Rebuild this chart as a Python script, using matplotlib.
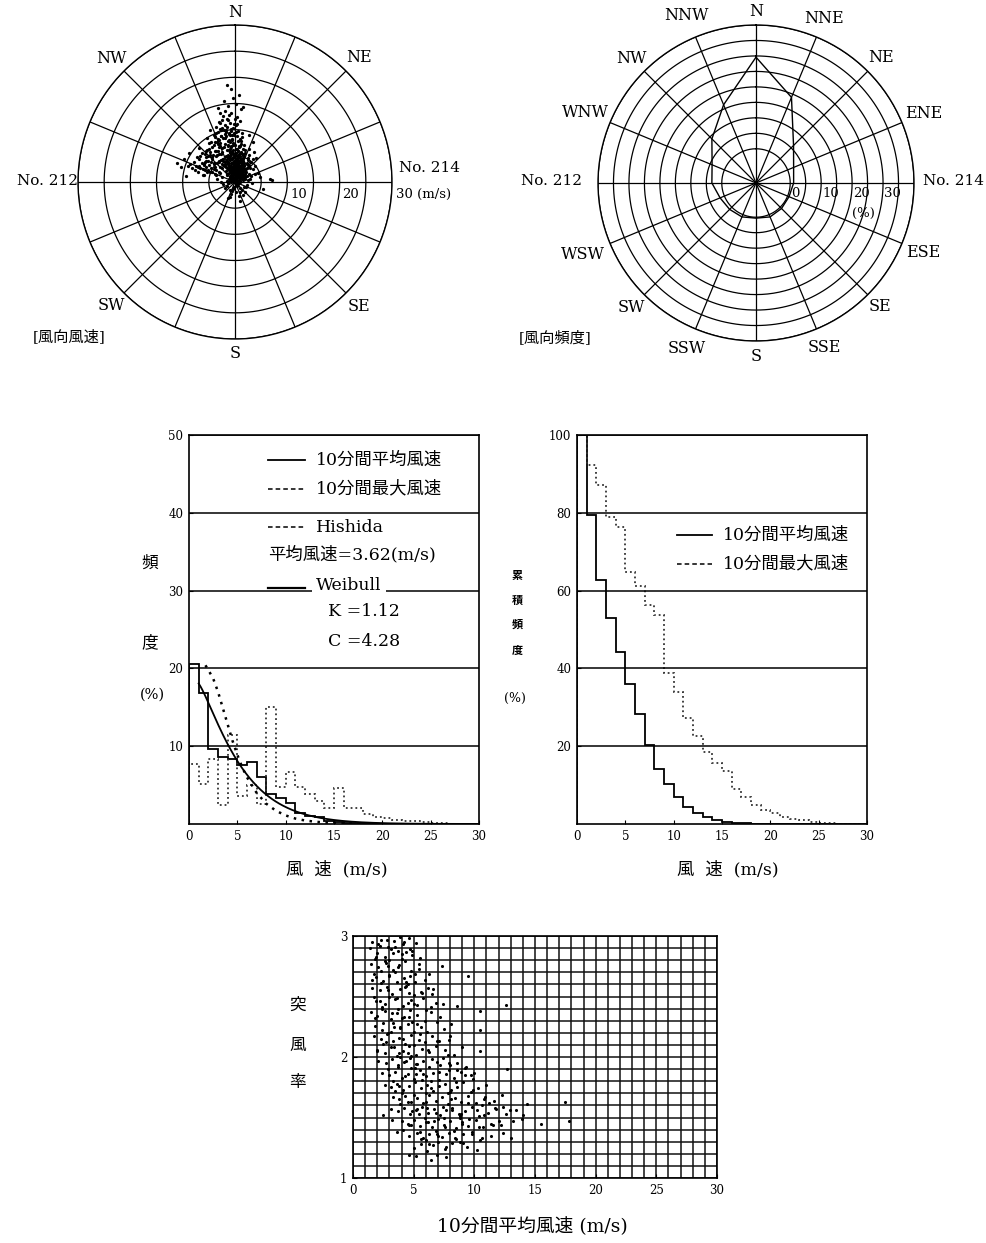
import numpy as np
import matplotlib.pyplot as plt

plt.rcParams['font.family'] = ['DejaVu Serif', 'Noto Sans CJK JP']

# --- 風向風速 scatter (east, north components, m/s) ---
east = [0.2, -0.5, 0.8, 1.3, -1.1, 0.0, 0.6, -0.3, 1.9, -0.8, 0.4, 1.1, -1.4, 0.9, -0.2, 0.3, 1.6, -0.6, 0.7, -1.0,
        0.1, -0.4, 1.5, -1.3, 0.5, 2.1, -0.7, 1.0, -0.1, 0.8, -1.6, 0.3, 1.2, -0.9, 0.6, 1.8, -0.2, 0.4, -1.2, 0.9,
        -0.5, 1.4, 0.2, -1.5, 0.7, 1.7, -0.3, -0.9, 1.1, 0.0, 2.2, -1.1, 0.5, 1.3, -0.6, 0.9, -1.8, 0.3, 1.6, -0.1,
        0.6, -0.7, 1.0, -1.3, 0.1, 1.9, -0.4, 0.8, -1.0, 1.5, 0.3, -0.2, 2.0, -1.6, 0.7, 1.2, -0.8, 0.4, -0.5, 1.1,
        0.0, 0.9, -1.2, 1.7, -0.3, 0.5, -2.0, 1.3, 0.2, -0.6, 2.4, -1.4, 0.8, -0.1, 1.6, -0.9, 0.4, 2.6, -1.7, 1.0,
        0.3, -0.4, 1.4, -1.1, 0.6, -0.2, 1.8, -2.2, 0.1, 1.2, -0.7, 0.7, -1.5, 2.3, -0.5, 0.9, -2.4, 0.2, 1.5, -1.0,
        0.5, -0.2, 1.2, 0.8, -0.6, 0.1, 1.7, -1.0, 0.4, 0.9, -0.4, 1.4, 0.0, 0.7, -0.8, 1.1, 0.3, -0.1, 1.9, 0.6,
        -0.3, 0.2, 1.0, -0.9, 1.5, 0.4, -0.5, 0.8, 2.0, -0.2, 0.6, 1.3, -1.2, 0.1, 0.9, -0.7, 1.6, 0.3, -0.4, 1.2,
        0.7, -0.1, 1.8, -1.4, 0.2, 1.0, -0.6, 0.5, 1.4, -0.3, 0.8, -1.1, 0.0, 1.6, -0.8, 0.4, 1.1, -0.5, 0.9, 2.3,
        0.3, 1.3, -0.2, 0.6, -1.6, 1.0, 0.1, -0.9, 1.7, 0.5, -0.4, 1.5, -1.3, 0.2, 0.8, -0.7, 1.2, 0.0, -1.9, 0.6,
        -2.6, -3.1, -1.9, -3.8, -2.3, -4.4, -1.4, -2.9, -3.5, -0.9, -2.1, -4.0, -3.3, -1.7, -2.7, -4.8, -1.2, -3.6, -2.0, -3.0,
        -0.4, 0.8, -1.1, 1.6, 0.3, -0.7, 2.5, -1.8, 1.1, -0.2, 0.5, -2.5, 1.9, -1.3, 0.0, 2.8, -0.6, 1.3, -3.9, 0.6,
        3.0, 3.5, 2.7, 3.2, 2.4, 3.8, 2.1, 3.4, -4.6, -5.2, -3.7, -4.1, -5.5, -2.8, -4.9, -3.4, -5.8, -2.4, -4.3, -3.1,
        -1.5, -0.3, 0.9, -2.2, 1.7, -1.0, 0.2, -1.6, 2.2, -0.8, 1.4, -2.7, 0.4, -0.1, 1.0, -1.9, 2.9, -0.5, 0.7, -1.3,
        -6.3, -5.7, -6.9, -6.1, -7.4, -5.1, -6.6, -7.0, -5.9, -7.8, -6.4, -5.4, -8.2, -6.8, -7.2, -5.6, -8.6, -6.0, -7.6, -9.0,
        -3.2, -2.0, -1.0, -4.0, -2.5, -0.2, -3.6, -1.6, -2.9, 0.4, -1.2, -3.9, -0.7, -2.2, 1.0, -4.5, -1.9, -3.0, 0.1, -2.6,
        -2.3, -1.6, -3.4, -2.8, -1.1, -4.2, -3.0, -2.0, -0.7, -3.7, -2.5, -1.4, -4.6, -3.2, -1.8, -2.6, -0.5, -3.9, -2.1, -1.3,
        -5.0, -4.4, -3.6, -5.6, -2.9, -4.8, -3.3, -6.2, -2.4, -5.3, -1.9, -4.0, -3.8, -0.9, -2.7, -1.5, -0.2, 0.5, 1.2, 1.9,
        2.4, 2.9, 1.5, 0.8, -0.4, -1.0, -1.7, -2.2, -3.1, -4.1, -3.5, -2.0, -1.2, -0.6, 0.2, 0.9, 1.7, 2.2, -4.7, -5.8,
        -6.6, -7.1, -5.2, -6.0, -4.3, -3.0, -2.4, -1.8, -1.0, -0.3, 0.4, 1.3, 2.6, 3.1, -2.9, -3.6, -4.9, -5.5, -1.3, 0.0,
        3.9, 4.4, 4.8, 2.6, 4.1, 3.6, -0.9, 1.5, 2.0, -1.4,
        -1.6, -0.8, 0.7, -2.1, -1.3, 0.2, -3.3, 1.6, -9.8, -10.3, -8.8, -9.4, 6.7, 7.0, 5.4, -4.8, -5.3, 2.7, -0.3, 1.2,
        -6.9, -11.0, 3.4, -2.9, 0.9]
north = [0.3, 1.2, 0.8, 2.1, 1.7, 2.9, 3.4, 0.6, 1.5, 2.6, 4.1, 3.0, 3.8, 0.1, 2.2, 1.0, 2.7, 4.6, 1.9, 0.9,
         3.3, 0.4, 1.1, 2.4, 4.8, 2.0, 3.6, 0.5, 1.8, 3.9, 1.3, 2.5, 4.4, 0.2, 1.4, 3.1, 5.0, 0.0, 3.2, 2.8,
         2.3, 0.7, 4.3, 1.6, 0.9, 3.7, 3.9, 4.9, 2.4, 1.5, 1.2, 0.5, 2.6, 3.5, 1.0, 4.6, 2.9, 3.6, 0.3, 5.4,
         -0.3, 3.0, 4.0, 3.4, 2.0, 2.5, 1.3, 5.3, 4.2, 1.9, -0.6, 3.1, 0.6, 4.4, 2.2, 5.7, 1.8, 1.7, 0.8, 2.9,
         0.9, 0.0, 2.7, 4.9, 6.1, 3.3, 3.0, 1.0, 2.8, 5.9, 2.9, 5.2, 2.3, 4.1, 4.1, 1.1, 6.4, 1.6, 2.1, 3.8,
         1.1, 2.2, 3.0, 4.5, 0.1, 4.7, 1.4, 4.0, 5.6, 2.1, 6.6, 3.9, 2.7, 3.4, 0.1, 6.8, 3.5, -0.2, 5.1, 5.8,
         1.6, 0.8, 2.4, 3.2, 1.9, 4.0, 1.0, 2.0, 2.9, 1.3, 3.4, 2.7, 2.1, 0.4, 1.1, 3.8, 4.6, 2.5, 2.2, 3.5,
         1.4, 2.6, 1.8, 3.1, 2.3, 0.2, 4.3, 2.9, 0.9, 3.7, 4.9, 1.5, 2.2, 1.2, 4.1, 0.6, 1.2, 3.0, 2.8, 0.7,
         2.0, 3.9, 3.3, 3.6, 5.2, 2.6, 2.4, 1.0, 4.4, 5.6, 0.0, 4.8, 3.5, 3.9, 5.3, 2.2, 1.6, 0.5, 5.0, 2.6,
         3.4, 3.0, 0.3, 4.2, 4.0, 0.9, 1.9, 5.8, 1.4, 6.0, 2.1, 4.6, 5.0, 6.3, 3.1, 6.9, 5.5, 4.5, 3.8, 1.8,
         5.3, 3.9, 7.2, 6.0, 8.4, 4.7, 7.8, 2.9, 5.1, 8.9, 6.6, 3.4, 7.3, 9.5, 4.2, 5.7, 6.2, 2.3, 3.1, 8.1,
         7.5, 6.9, 9.1, 6.3, 8.7, 10.1, 4.6, 9.9, 7.9, 9.4, 6.0, 10.4, 5.5, 6.9, 7.1, 3.9, 8.3, 8.6, 7.7, 9.8,
         1.2, 2.4, 3.3, -0.2, 0.4, 1.6, -1.0, 4.3, 2.6, 4.0, 1.3, 7.0, 2.9, 1.7, 6.4, 0.6, 5.4, 0.9, 1.9, 6.7,
         -0.8, -1.3, -1.1, -0.4, -0.9, -1.6, -1.9, 0.2, -0.5, -2.3, -1.5, 0.0, -0.7, -1.0, -2.0, -1.2, 0.5, -1.7, -2.6, -0.2,
         3.7, 2.2, 4.4, 1.4, 3.0, 5.0, 2.6, 1.9, 3.3, 3.9, 5.6, 2.0, 2.7, 3.1, 4.8, 4.1, 3.4, 1.3, 2.3, 3.0,
         9.6, 10.8, 11.3, 9.0, 11.9, 11.0, 10.5, 12.1, 10.2, 12.4, 12.8, 8.6, 13.1, 12.6, 11.7, 7.7, 13.5, 11.5, 10.9, 8.8,
         4.4, 6.1, 3.6, 7.5, 8.1, 5.2, 2.0, 9.2, 9.7, 4.9, 2.6, 7.0, 3.8, 6.0, 5.0, 8.8, 8.0, 2.9, 10.0, 4.7,
         3.3, 4.4, 5.9, 4.7, 6.8, 1.9, 8.2, 2.5, 5.7, 6.1, 3.5, 2.5, 1.5, 6.4, 9.9, 10.6, 9.0, 7.9, 7.3, 6.1,
         4.2, 2.7, 5.3, 6.6, 7.0, 5.8, 4.0, 3.2, 4.0, 3.7, 7.7, 8.5, 9.3, 8.9, 9.5, 8.2, 7.0, 3.6, 5.2, 3.9,
         4.9, 2.8, 2.2, 3.5, 6.6, 5.3, 6.5, 8.7, 7.6, 10.4, 11.0, 9.3, 6.4, 3.8, 11.3, 9.3, 7.4, 5.9, 11.8, 12.0,
         3.0, 1.8, 0.9, 5.1, 4.6, 5.7, -2.8, -2.5, -1.9, -3.0,
         18.6, 17.8, 16.6, 15.5, 14.6, 15.0, 14.2, 14.3, 4.3, 2.9, 5.6, 1.2, 0.6, 0.3, -1.4, 9.9, 8.4, 8.9, 16.0, 13.9,
         6.5, 3.6, 7.6, 13.2, -3.6]

# --- 風向頻度 (%) ---
dirs = ['N', 'NNE', 'NE', 'ENE', 'E', 'ESE', 'SE', 'SSE',
        'S', 'SSW', 'SW', 'WSW', 'W', 'WNW', 'NW', 'NNW']
dir_freq = [29.6, 18.9, 6.1, 2.1, 1.1, 0.5, 0.6, 0.8,
            0.3, 0.8, 1.0, 1.5, 3.2, 4.3, 9.1, 16.3]

# --- 風速頻度分布 (%), 1 m/s bins 0-30 ---
mean_freq = [20.6, 16.8, 9.7, 8.6, 8.4, 7.6, 8.0, 6.1, 3.9, 3.3,
             2.7, 1.4, 1.0, 0.9, 0.4, 0.3, 0.1, 0.1, 0.1, 0.0,
             0.0, 0.0, 0.0, 0.0, 0.0, 0.0, 0.0, 0.0, 0.0, 0.0]
max_freq = [7.7, 5.2, 8.3, 2.5, 11.4, 3.6, 5.0, 2.6, 15.0, 4.7,
            6.7, 4.8, 3.9, 3.0, 2.1, 4.6, 2.0, 2.0, 1.3, 0.9,
            0.8, 0.5, 0.4, 0.4, 0.3, 0.1, 0.1, 0.05, 0.05, 0.0]
hishida_v = [1.7, 2.0, 2.5, 3.0, 3.5, 4.0, 4.5, 5.0, 5.5, 6.0, 7.0, 8.0, 9.0, 10.0, 11.0, 12.0, 13.0, 14.0, 16.0, 18.0]
hishida_f = [20.4, 19.8, 18.7, 17.0, 14.9, 12.8, 10.7, 8.9, 7.3, 6.0, 4.0, 2.6, 1.7, 1.1, 0.7, 0.45, 0.3, 0.2, 0.1, 0.05]
weib_k, weib_c = 1.12, 4.28
mean_speed = 3.62

# --- 突風率 vs 10分間平均風速 ---
gust_v = [1.6, 2.3, 2.9, 3.4, 4.1, 4.6, 5.2, 2.0, 3.7, 4.9, 1.8, 2.6, 3.1, 4.4, 5.5, 2.2, 3.9, 1.4, 4.0, 3.0,
          1.5, 2.1, 2.7, 3.3, 3.8, 4.3, 4.8, 5.4, 1.9, 2.5, 3.0, 3.6, 4.2, 4.7, 5.9, 2.3, 3.5, 4.5, 6.3, 7.3, 1.7, 2.9, 5.1, 9.5,
          1.6, 2.2, 2.8, 3.2, 3.9, 4.4, 5.0, 5.6, 6.2, 1.9, 2.6, 3.5, 4.1, 4.8, 5.3, 6.8, 2.4, 3.0, 3.7, 4.6, 5.8, 7.4, 8.6, 10.5, 12.6, 6.5,
          1.5, 2.0, 2.6, 3.1, 3.6, 4.2, 4.7, 5.3, 5.9, 6.4, 1.8, 2.4, 3.3, 3.9, 4.5, 5.0, 5.6, 6.9, 7.5, 2.9, 4.0, 6.1, 8.1, 10.5, 4.9, 3.4,
          1.7, 2.3, 2.8, 3.3, 3.8, 4.3, 4.8, 5.4, 5.9, 6.5, 7.1, 2.0, 2.6, 3.1, 3.6, 4.1, 4.6, 5.2, 5.7, 6.3, 6.8, 7.6, 8.3, 9.0, 10.5,
          2.5, 3.9, 5.0, 7.9, 4.5,
          2.1, 2.7, 3.2, 3.7, 4.2, 4.7, 5.2, 5.8, 6.3, 6.9, 7.4, 8.0, 8.6, 9.2, 2.4, 3.0, 3.5, 4.0, 4.5, 5.0, 5.5, 6.0, 6.6, 7.1,
          7.7, 8.3, 8.9, 9.7, 12.7, 3.3, 4.8, 6.4, 7.9, 5.3, 9.9, 2.9,
          2.6, 3.1, 3.6, 4.1, 4.6, 5.1, 5.6, 6.1, 6.6, 7.1, 7.6, 8.1, 8.6, 9.1, 9.7, 10.3, 11.0, 3.3, 3.8, 4.3, 4.8, 5.3, 5.8, 6.3,
          6.8, 7.3, 7.8, 8.4, 8.9, 9.5, 10.1, 10.8, 11.6, 12.3, 14.3, 4.0, 6.0, 8.0, 10.6, 17.5,
          3.1, 3.7, 4.2, 4.7, 5.2, 5.7, 6.2, 6.7, 7.2, 7.7, 8.2, 8.7, 9.2, 9.8, 10.4, 11.1, 11.8, 12.6, 13.4, 4.0, 4.5, 5.0, 5.5,
          6.0, 6.5, 7.0, 7.5, 8.0, 8.5, 9.0, 9.5, 10.1, 10.7, 11.4, 12.2, 13.9, 15.5, 17.8, 5.9, 8.8,
          3.6, 4.6, 5.3, 5.8, 6.3, 6.8, 7.3, 7.9, 8.5, 9.1, 9.8, 10.6, 11.4, 12.4, 5.0, 5.6, 6.1, 6.6, 7.6, 8.2, 9.4, 10.2, 6.0, 7.0,
          8.8, 13.0,
          5.2, 6.4, 6.9, 7.7, 4.6,
          2.5, 3.2, 3.9, 4.6, 5.3, 6.0, 6.7, 7.4, 8.1, 8.8, 9.5, 10.2, 3.5, 4.3, 5.0, 5.7, 6.4, 7.1, 7.8, 8.5, 9.2, 9.9, 10.9, 11.7,
          4.1, 4.8, 5.5, 6.2, 6.9, 7.6, 8.3, 9.0, 3.7, 4.4, 5.1, 5.8, 6.5, 7.2, 7.9, 8.6, 9.3, 10.0, 10.8, 11.5, 12.4, 13.2,
          2.0, 2.7, 3.4, 4.1, 4.8, 5.5, 6.2, 6.9, 1.8, 2.5, 3.2, 3.9, 4.6, 5.3, 6.0, 2.2, 2.9, 3.6, 4.3, 5.0, 5.7, 6.4, 7.2, 8.0,
          1.6, 2.3, 3.0, 3.7, 4.4, 5.1, 1.9, 2.6, 3.3, 4.0, 4.7, 5.4, 2.1, 2.8, 3.5, 4.2, 4.9, 1.7, 2.4, 3.1, 3.8, 4.5, 6.6, 7.8,
          5.6, 6.3, 7.0, 7.7, 8.4, 9.1, 9.8, 10.5, 4.9, 5.4, 6.1, 6.8, 7.5, 8.2, 8.9, 9.6, 10.4, 11.2, 12.0, 12.9, 14.0, 3.8, 4.5, 5.2]
gust_f = [2.95, 2.97, 2.91, 2.96, 2.93, 2.98, 2.94, 2.86, 2.88, 2.84, 2.81, 2.83, 2.89, 2.87, 2.82, 2.92, 2.99, 2.90, 2.85, 2.80,
          2.77, 2.74, 2.78, 2.72, 2.76, 2.79, 2.71, 2.73, 2.66, 2.63, 2.68, 2.62, 2.65, 2.67, 2.64, 2.61, 2.70, 2.60, 2.69, 2.75, 2.69, 2.75, 2.62, 2.67,
          2.57, 2.55, 2.58, 2.52, 2.56, 2.59, 2.51, 2.54, 2.57, 2.46, 2.44, 2.48, 2.42, 2.47, 2.43, 2.45, 2.41, 2.50, 2.40, 2.53, 2.49, 2.44, 2.42, 2.38, 2.43, 2.52,
          2.37, 2.34, 2.38, 2.31, 2.36, 2.33, 2.39, 2.35, 2.30, 2.37, 2.26, 2.22, 2.28, 2.24, 2.27, 2.21, 2.25, 2.29, 2.23, 2.20, 2.32, 2.21, 2.27, 2.22, 2.29, 2.25,
          2.17, 2.15, 2.19, 2.13, 2.16, 2.11, 2.18, 2.14, 2.12, 2.17, 2.13, 2.06, 2.03, 2.08, 2.01, 2.05, 2.09, 2.02, 2.07, 2.04, 2.09, 2.06, 2.02, 2.08, 2.05,
          2.11, 2.00, 2.10, 2.14, 2.03,
          1.97, 1.95, 1.98, 1.93, 1.96, 1.99, 1.94, 1.97, 1.92, 1.96, 1.99, 1.93, 1.95, 1.91, 1.87, 1.85, 1.88, 1.83, 1.86, 1.82, 1.89, 1.84, 1.87, 1.81,
          1.86, 1.83, 1.88, 1.85, 1.90, 1.80, 1.91, 1.80, 1.89, 1.94, 1.82, 1.90,
          1.77, 1.75, 1.78, 1.73, 1.76, 1.79, 1.74, 1.77, 1.72, 1.76, 1.78, 1.73, 1.75, 1.79, 1.71, 1.74, 1.77, 1.67, 1.65, 1.68, 1.63, 1.66, 1.62, 1.69,
          1.64, 1.67, 1.61, 1.66, 1.63, 1.68, 1.62, 1.65, 1.64, 1.69, 1.61, 1.70, 1.70, 1.71, 1.60, 1.63,
          1.57, 1.55, 1.58, 1.53, 1.56, 1.59, 1.54, 1.57, 1.52, 1.56, 1.58, 1.53, 1.55, 1.59, 1.51, 1.54, 1.57, 1.53, 1.56, 1.47, 1.45, 1.48, 1.43,
          1.46, 1.42, 1.49, 1.44, 1.47, 1.41, 1.46, 1.43, 1.48, 1.42, 1.45, 1.44, 1.49, 1.45, 1.47, 1.50, 1.50,
          1.38, 1.35, 1.37, 1.33, 1.36, 1.39, 1.34, 1.37, 1.32, 1.36, 1.38, 1.33, 1.35, 1.37, 1.25, 1.28, 1.22, 1.27, 1.24, 1.29, 1.26, 1.23, 1.31, 1.30,
          1.30, 1.33,
          1.18, 1.15, 1.19, 1.17, 1.19,
          1.52, 1.48, 1.61, 1.44, 1.57, 1.63, 1.47, 1.59, 1.65, 1.51, 1.62, 1.56, 1.72, 1.84, 1.69, 1.81, 1.74, 1.88, 1.70, 1.79, 1.85, 1.73, 1.67, 1.58,
          1.40, 1.44, 1.38, 1.46, 1.36, 1.42, 1.39, 1.45, 1.92, 1.97, 1.91, 1.86, 1.98, 1.93, 1.95, 1.89, 1.92, 1.87, 1.52, 1.44, 1.59, 1.47,
          2.05, 2.12, 2.08, 2.15, 2.01, 2.19, 2.06, 2.13, 2.32, 2.28, 2.36, 2.25, 2.33, 2.27, 2.39, 2.46, 2.55, 2.49, 2.58, 2.44, 2.53, 2.41, 2.33, 2.17,
          2.64, 2.71, 2.67, 2.74, 2.62, 2.69, 2.83, 2.79, 2.86, 2.81, 2.89, 2.77, 2.93, 2.97, 2.91, 2.95, 2.88, 2.50, 2.40, 2.21, 2.03, 2.45, 2.56, 2.02,
          1.32, 1.28, 1.35, 1.26, 1.33, 1.29, 1.36, 1.31, 1.55, 1.53, 1.58, 1.54, 1.50, 1.56, 1.53, 1.49, 1.42, 1.62, 1.47, 1.56, 1.52, 1.76, 1.63, 1.86]

W, H = 987, 1243
fig = plt.figure(figsize=(W / 100, H / 100), dpi=100)


def box(x0, y0, x1, y1):
    return [x0 / W, 1 - y1 / H, (x1 - x0) / W, (y1 - y0) / H]


def ftext(x, y, s, **kw):
    fig.text(x / W, 1 - y / H, s, **kw)


ring_th = np.linspace(0, 2 * np.pi, 361)
spoke_th = np.radians(np.arange(16) * 22.5)


def rose_frame(ax, rmin, rings):
    ax.set_theta_zero_location('N')
    ax.set_theta_direction(-1)
    ax.set_ylim(rmin, rings[-1])
    ax.set_xticks([])
    ax.set_yticks([])
    ax.grid(False)
    ax.spines['polar'].set_linewidth(1.0)
    for r in rings:
        ax.plot(ring_th, np.full_like(ring_th, r), color='k', lw=0.9)
    for t in spoke_th:
        ax.plot([t, t], [rmin, rings[-1]], color='k', lw=0.9)


# 風向風速
ax1 = fig.add_axes(box(78, 25, 392, 339), projection='polar')
rose_frame(ax1, 0, [5, 10, 15, 20, 25, 30])
spd = np.hypot(east, north)
ang = np.arctan2(east, north)
ax1.scatter(ang, spd, s=5.5, c='k', lw=0, zorder=3)
for lab, a, r in [('N', 0, 32.3), ('NE', 45, 33.6), ('SE', 135, 33.6), ('S', 180, 32.7),
                  ('SW', 225, 33.3), ('NW', 315, 33.3)]:
    ax1.text(np.radians(a), r, lab, ha='center', va='center', fontsize=11.5)
for r in [10, 20]:
    ax1.annotate(str(r), xy=(np.pi / 2, r), xytext=(2, -4), textcoords='offset points',
                 ha='left', va='top', fontsize=9.5)
ax1.annotate('30 (m/s)', xy=(np.pi / 2, 30), xytext=(3, -4), textcoords='offset points',
             ha='left', va='top', fontsize=9.5)
ftext(78, 181, 'No. 212', ha='right', va='center', fontsize=11)
ftext(399, 168, 'No. 214', ha='left', va='center', fontsize=11)
ftext(33, 337, '[風向風速]', ha='left', va='center', fontsize=11)

# 風向頻度
ax2 = fig.add_axes(box(598, 25, 914, 341), projection='polar')
rose_frame(ax2, -11.06, [0, 5, 10, 15, 20, 25, 30, 35, 40])
th = np.radians(np.arange(16) * 22.5)
ax2.plot(np.append(th, th[0]), dir_freq + dir_freq[:1], color='k', lw=1.0)
label_r = [44.5, 46.5, 46.2, 47.5, None, 47.3, 45.5, 46.5,
           45.0, 47.0, 45.8, 49.5, None, 48.5, 46.0, 47.5]
for lab, t, r in zip(dirs, th, label_r):
    if r is not None:
        ax2.text(t, r, lab, ha='center', va='center', fontsize=11.5)
ax2.annotate('0', xy=(np.pi / 2, 0), xytext=(1, -3), textcoords='offset points',
             ha='left', va='top', fontsize=9.5)
for r in [10, 20, 30]:
    ax2.annotate(str(r), xy=(np.pi / 2, r), xytext=(1, -3), textcoords='offset points',
                 ha='left', va='top', fontsize=9.5)
ax2.annotate('(%)', xy=(np.pi / 2, 20), xytext=(0, -17), textcoords='offset points',
             ha='left', va='top', fontsize=9.5)
ftext(582, 181, 'No. 212', ha='right', va='center', fontsize=11)
ftext(923, 181, 'No. 214', ha='left', va='center', fontsize=11)
ftext(519, 338, '[風向頻度]', ha='left', va='center', fontsize=11)

edges = np.arange(31)


def box_axes(ax, ymax, ystep):
    ax.set_xlim(0, 30)
    ax.set_ylim(0, ymax)
    ax.set_xticks(range(0, 31, 5))
    ax.set_yticks(np.arange(ystep, ymax + 1, ystep))
    ax.tick_params(direction='in', length=3, labelsize=8.5, pad=4, top=False, right=False)
    ax.grid(axis='y', color='k', lw=1.1)
    for s in ax.spines.values():
        s.set_linewidth(1.2)


# 頻度分布
ax3 = fig.add_axes(box(189, 435, 479, 824))
box_axes(ax3, 50, 10)
ax3.stairs(mean_freq, edges, color='k', lw=1.3)
ax3.stairs(max_freq, edges, color='#333', lw=1.3, ls=':')
ax3.plot(hishida_v, hishida_f, color='k', lw=1.8, ls=(0, (1, 2.2)))
v = np.linspace(1, 30, 300)
weib = 100 * (weib_k / weib_c) * (v / weib_c) ** (weib_k - 1) * np.exp(-(v / weib_c) ** weib_k)
ax3.plot(v, weib, color='k', lw=1.3)

lx0, lx1, tx = 0.272, 0.40, 0.438
ax3.plot([lx0, lx1], [0.936, 0.936], transform=ax3.transAxes, color='k', lw=1.3)
ax3.text(tx, 0.936, '10分間平均風速', transform=ax3.transAxes, va='center', fontsize=12.5)
ax3.plot([lx0, lx1], [0.861, 0.861], transform=ax3.transAxes, color='k', lw=1.1, ls=(0, (3, 2)))
ax3.text(tx, 0.861, '10分間最大風速', transform=ax3.transAxes, va='center', fontsize=12.5)
ax3.plot([lx0, lx1], [0.763, 0.763], transform=ax3.transAxes, color='k', lw=1.1, ls=(0, (3, 2)))
ax3.text(tx, 0.763, 'Hishida', transform=ax3.transAxes, va='center', fontsize=12.5)
ax3.text(lx0, 0.692, f'平均風速={mean_speed:.2f}(m/s)', transform=ax3.transAxes, va='center', fontsize=12.5)
ax3.plot([lx0, lx1], [0.606, 0.606], transform=ax3.transAxes, color='k', lw=1.6, zorder=4)
ax3.text(tx, 0.614, 'Weibull', transform=ax3.transAxes, va='center', fontsize=12.5, zorder=5,
         bbox=dict(boxstyle='square,pad=0.25', fc='white', ec='none'))
ax3.text(0.479, 0.545, f'K ={weib_k:.2f}', transform=ax3.transAxes, va='center', fontsize=12.5)
ax3.text(0.479, 0.470, f'C ={weib_c:.2f}', transform=ax3.transAxes, va='center', fontsize=12.5)
ftext(150, 563, '頻', ha='center', va='center', fontsize=12)
ftext(150, 643, '度', ha='center', va='center', fontsize=12)
ftext(152, 695, '(%)', ha='center', va='center', fontsize=10.5)
ftext(337, 870, '風  速  (m/s)', ha='center', va='center', fontsize=12.5)

# 累積頻度
exc_mean = 100 - np.concatenate([[0], np.cumsum(mean_freq)[:-1]])
exc_max = 100 - np.concatenate([[0], np.cumsum(max_freq)[:-1]])
ax4 = fig.add_axes(box(577, 435, 867, 824))
box_axes(ax4, 100, 20)
ax4.stairs(exc_mean, edges, color='k', lw=1.3)
ax4.stairs(exc_max, edges, color='#333', lw=1.3, ls=':')
ax4.plot([0.345, 0.466], [0.743, 0.743], transform=ax4.transAxes, color='k', lw=1.3)
ax4.text(0.503, 0.743, '10分間平均風速', transform=ax4.transAxes, va='center', fontsize=12.5)
ax4.plot([0.345, 0.466], [0.668, 0.668], transform=ax4.transAxes, color='k', lw=1.1, ls=(0, (3, 2)))
ax4.text(0.503, 0.668, '10分間最大風速', transform=ax4.transAxes, va='center', fontsize=12.5)
for ch, y in zip('累積頻度', [575, 600, 624, 650]):
    ftext(517, y, ch, ha='center', va='center', fontsize=8, fontweight='bold')
ftext(515, 698, '(%)', ha='center', va='center', fontsize=9)
ftext(728, 870, '風  速  (m/s)', ha='center', va='center', fontsize=12.5)

# 突風率
ax5 = fig.add_axes(box(353, 936, 717, 1178))
ax5.set_xlim(0, 30)
ax5.set_ylim(1, 3)
ax5.set_xticks(range(0, 31, 5))
ax5.set_xticks(range(31), minor=True)
ax5.set_yticks([1, 2, 3])
ax5.set_yticks(np.arange(1, 3.001, 0.1), minor=True)
ax5.grid(which='both', color='#111', lw=1.1)
ax5.tick_params(which='major', direction='in', length=3, labelsize=8.5, pad=4)
ax5.tick_params(which='minor', length=0)
for s in ax5.spines.values():
    s.set_linewidth(1.2)
ax5.scatter(gust_v, gust_f, s=5, c='k', lw=0, zorder=3)
for ch, y in zip('突風率', [1005, 1045, 1083]):
    ftext(298, y, ch, ha='center', va='center', fontsize=12)
ftext(532, 1227, '10分間平均風速 (m/s)', ha='center', va='center', fontsize=13.5)

fig.savefig('out.png', dpi=100, facecolor='white')
